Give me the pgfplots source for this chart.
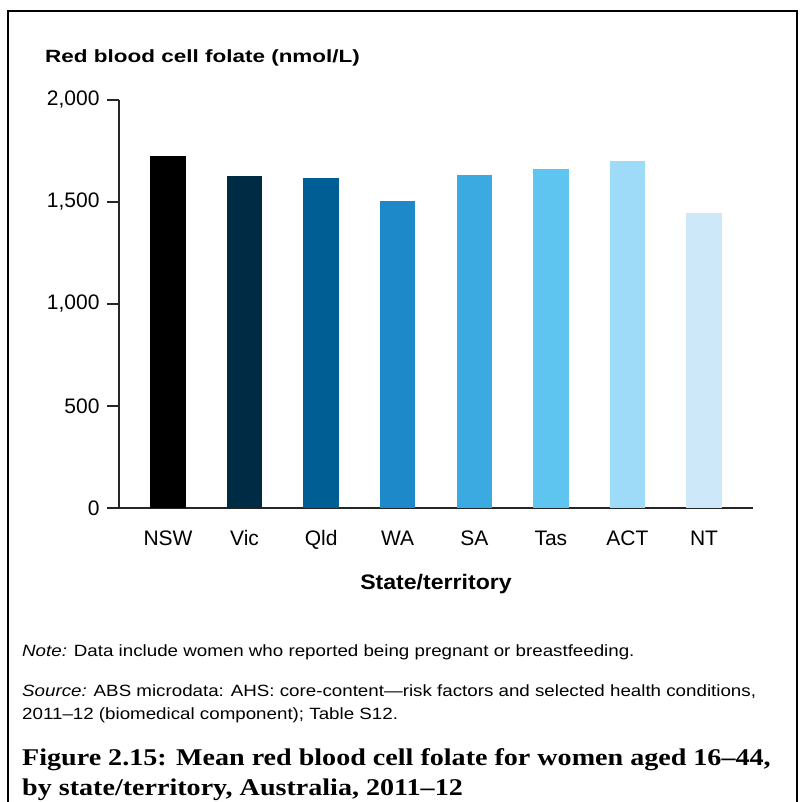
\documentclass[border=0pt]{standalone}
\usepackage{pgfplots}
\pgfplotsset{compat=1.18}
\usepackage{fontspec}
\setmainfont{Liberation Sans}
\newfontfamily\capfont{Liberation Serif}
\definecolor{cNSW}{HTML}{000000}
\definecolor{cVic}{HTML}{002B45}
\definecolor{cQld}{HTML}{005E94}
\definecolor{cWA}{HTML}{1D89C9}
\definecolor{cSA}{HTML}{3AAAE0}
\definecolor{cTas}{HTML}{5EC4F0}
\definecolor{cACT}{HTML}{9DDBF8}
\definecolor{cNT}{HTML}{CDE9F9}
\begin{document}
\begin{tikzpicture}[x=1pt,y=1pt]
\path[use as bounding box] (0,0) rectangle (803,-802);
\draw[line width=2pt] (8,-802) -- (8,-11) -- (797,-11) -- (797,-802);
\begin{axis}[
  at={(119pt,-508pt)}, anchor=south west,
  scale only axis, width=634pt, height=408pt,
  xmin=-0.64, xmax=7.64, ymin=0, ymax=2000,
  axis x line*=bottom, axis y line*=left,
  axis line style={line width=1.5pt, black!85},
  ybar, bar width=35.5pt,
  xtick={0,1,2,3,4,5,6,7},
  xticklabels={NSW,Vic,Qld,WA,SA,Tas,ACT,NT},
  major x tick style={draw=none},
  ytick={0,500,1000,1500,2000},
  major y tick style={line width=1.5pt, black!85},
  tick align=outside, major tick length=12pt,
  tick label style={font=\fontsize{21}{25}\selectfont},
  x tick label style={anchor=base, yshift=-25pt},
  y tick label style={xshift=-4pt},
  /pgf/number format/assume math mode=true,
  /pgf/number format/1000 sep={,},
  clip=false,
]
\addplot[fill=cNSW, draw=none, bar shift=0pt] coordinates {(0,1727)};
\addplot[fill=cVic, draw=none, bar shift=0pt] coordinates {(1,1629)};
\addplot[fill=cQld, draw=none, bar shift=0pt] coordinates {(2,1618)};
\addplot[fill=cWA, draw=none, bar shift=0pt] coordinates {(3,1505)};
\addplot[fill=cSA, draw=none, bar shift=0pt] coordinates {(4,1632)};
\addplot[fill=cTas, draw=none, bar shift=0pt] coordinates {(5,1662)};
\addplot[fill=cACT, draw=none, bar shift=0pt] coordinates {(6,1700)};
\addplot[fill=cNT, draw=none, bar shift=0pt] coordinates {(7,1446)};
\end{axis}
\node[anchor=base west, inner sep=0pt, font=\bfseries\fontsize{17.7}{21}\selectfont] at (45,-63) {\scalebox{1.27}[1]{Red blood cell folate (nmol/L)}};
\node[anchor=base, inner sep=0pt, font=\bfseries\fontsize{21}{25}\selectfont] at (436,-589) {\scalebox{1.1}[1]{State/territory}};
\node[anchor=base west, inner sep=0pt, font=\fontsize{16.3}{19}\selectfont] at (22,-656) {\scalebox{1.15}[1]{\textit{Note:} Data include women who reported being pregnant or breastfeeding.}};
\node[anchor=base west, inner sep=0pt, font=\fontsize{16.3}{19}\selectfont] at (22,-696) {\scalebox{1.15}[1]{\textit{Source:} ABS microdata: AHS: core-content---risk factors and selected health conditions,}};
\node[anchor=base west, inner sep=0pt, font=\fontsize{16.3}{19}\selectfont] at (22,-719) {\scalebox{1.15}[1]{2011--12 (biomedical component); Table S12.}};
\node[anchor=base west, inner sep=0pt, font=\capfont\bfseries\fontsize{24}{30}\selectfont] at (22,-765) {\scalebox{1.17}[1]{Figure 2.15: Mean red blood cell folate for women aged 16–44,}};
\node[anchor=base west, inner sep=0pt, font=\capfont\bfseries\fontsize{24}{30}\selectfont] at (22,-795) {\scalebox{1.17}[1]{by state/territory, Australia, 2011–12}};
\end{tikzpicture}
\end{document}
